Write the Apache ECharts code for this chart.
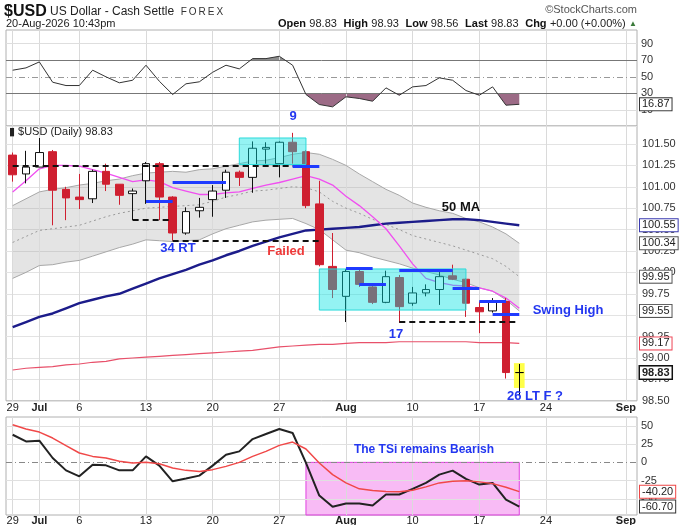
<!DOCTYPE html>
<html><head><meta charset="utf-8">
<script src="https://cdn.jsdelivr.net/npm/echarts@6/dist/echarts.min.js"></script>
<style>html,body{margin:0;padding:0;background:#fff}#c{width:681px;height:525px}</style>
</head><body><div id="c"></div>
<script>
// ---------- data ----------
const dates = ['06-29','06-30','07-01','07-02','07-03','07-06','07-07','07-08','07-09','07-10',
  '07-13','07-14','07-15','07-16','07-17','07-20','07-21','07-22','07-23','07-24',
  '07-27','07-28','07-29','07-30','07-31','08-03','08-04','08-05','08-06','08-07',
  '08-10','08-11','08-12','08-13','08-14','08-17','08-18','08-19','08-20'];
const futureDays = ['08-21','08-24','08-25','08-26','08-27','08-28','08-31','09-01'];
const open  = [101.37,101.15,101.23,101.41,100.97,100.88,100.86,101.18,101.03,100.92,101.07,101.27,100.88,100.46,100.72,100.85,100.96,101.17,101.11,101.44,101.27,101.52,101.41,100.80,100.07,99.72,100.01,99.83,99.65,99.94,99.64,99.76,99.80,99.96,99.92,99.59,99.55,99.66,98.83];
const close = [101.14,101.23,101.40,100.96,100.87,100.85,101.18,101.03,100.90,100.95,101.27,100.88,100.46,100.71,100.76,100.95,101.17,101.11,101.45,101.46,101.52,101.41,100.78,100.09,99.80,100.01,99.86,99.65,99.95,99.60,99.76,99.80,99.95,99.92,99.64,99.54,99.65,98.83,98.83];
const high  = [101.40,101.42,101.57,101.43,101.00,101.15,101.20,101.27,101.03,100.98,101.29,101.29,100.89,100.76,100.87,101.02,101.20,101.19,101.53,101.52,101.53,101.63,101.43,101.07,100.46,100.04,100.03,99.85,100.02,99.97,99.83,99.86,100.01,100.09,99.93,99.66,99.70,99.70,98.93];
const low   = [101.06,101.04,101.23,100.55,100.61,100.74,100.81,100.95,100.79,100.61,100.80,100.61,100.37,100.44,100.64,100.65,100.87,101.01,100.93,101.27,101.11,101.27,100.75,100.07,99.70,99.42,99.83,99.63,99.64,99.41,99.61,99.72,99.62,99.91,99.48,99.29,99.53,98.76,98.56];
const bbUpper = [100.78,100.86,100.94,100.97,100.99,101.02,101.04,101.07,101.09,101.13,101.16,101.17,101.18,101.17,101.20,101.21,101.24,101.27,101.30,101.31,101.34,101.38,101.40,101.38,101.32,101.25,101.15,101.06,100.97,100.90,100.81,100.76,100.72,100.69,100.63,100.59,100.53,100.45,100.34];
const bbMid   = [100.35,100.42,100.49,100.51,100.53,100.55,100.60,100.65,100.69,100.72,100.75,100.76,100.77,100.78,100.79,100.83,100.88,100.91,100.95,100.96,100.98,101.00,100.99,100.94,100.83,100.75,100.69,100.62,100.56,100.50,100.43,100.39,100.35,100.31,100.26,100.21,100.16,100.07,99.95];
const bbLower = [99.93,100.00,100.08,100.09,100.12,100.14,100.19,100.24,100.29,100.33,100.38,100.37,100.36,100.37,100.38,100.45,100.51,100.55,100.59,100.61,100.62,100.63,100.57,100.50,100.38,100.26,100.23,100.18,100.14,100.10,100.05,100.01,99.97,99.92,99.88,99.82,99.78,99.68,99.55];
const ma10  = [100.94,101.07,101.21,101.25,101.25,101.24,101.20,101.16,101.11,101.06,101.08,101.06,100.99,100.95,100.91,100.91,100.93,100.94,100.98,101.02,101.05,101.09,101.13,101.09,101.02,100.89,100.78,100.65,100.51,100.31,100.10,99.93,99.88,99.85,99.84,99.82,99.78,99.70,99.58];
const ma50  = [99.36,99.42,99.48,99.52,99.58,99.64,99.68,99.72,99.75,99.81,99.87,99.93,99.98,100.03,100.09,100.14,100.20,100.25,100.31,100.36,100.41,100.45,100.49,100.50,100.51,100.52,100.53,100.55,100.57,100.58,100.59,100.60,100.61,100.62,100.62,100.61,100.59,100.57,100.55];
const ma200 = [98.86,98.88,98.89,98.90,98.92,98.93,98.95,98.96,98.99,99.00,99.01,99.02,99.03,99.04,99.05,99.06,99.07,99.08,99.09,99.11,99.13,99.14,99.15,99.16,99.16,99.17,99.18,99.18,99.18,99.19,99.19,99.19,99.19,99.19,99.19,99.18,99.18,99.18,99.17];
const rsi   = [58.0,60.8,68.0,43.5,39.5,39.5,58.0,50.0,42.8,45.9,64.0,44.7,28.7,41.6,44.0,55.5,64.0,59.6,72.0,72.0,74.8,64.0,28.7,16.6,13.8,25.9,23.9,20.6,36.7,27.8,37.9,39.5,48.8,45.9,33.5,27.8,37.9,15.8,16.87];
const tsi   = [37.9,28.8,29.7,6.0,-11.0,-19.2,-3.2,-4.1,-11.0,-11.0,8.2,-4.5,-26.0,-22.3,-18.2,-4.5,10.5,15.1,32.0,38.9,45.8,40.3,-0.8,-45.6,-61.1,-56.6,-56.6,-59.3,-44.2,-44.2,-36.4,-28.2,-16.8,-11.4,-22.7,-30.5,-28.2,-51.1,-60.7];
const tsiSignal = [51.6,45.8,41.6,33.4,22.9,12.9,8.2,6.0,1.4,-0.8,0.0,-1.8,-7.7,-11.0,-12.7,-10.0,-5.5,0.0,8.2,15.1,23.3,27.9,18.4,-0.8,-16.8,-28.2,-36.4,-38.8,-40.1,-40.5,-38.4,-33.7,-28.2,-26.0,-25.1,-26.8,-29.2,-34.2,-40.2];
const tickLabels = [['06-29','29'],['07-01','Jul'],['07-06','6'],['07-13','13'],['07-20','20'],['07-27','27'],['08-03','Aug'],['08-10','10'],['08-17','17'],['08-24','24'],['09-01','Sep']];
const rsiLevels = [90,70,50,30,10];
const tsiLevels = [50,25,0,-25,-50];
const dashedLines = [['06-29','07-29',101.24],['07-10','07-15',100.61],['07-15','07-30',100.37],['08-07','08-20',99.42]];
const blueLines = [['07-13','07-15',100.83],['07-15','07-21',101.05],['07-28','07-30',101.24],['08-03','08-05',100.05],['08-04','08-06',99.86],['08-07','08-13',100.02],['08-13','08-17',99.82],['08-17','08-19',99.66],['08-18','08-20',99.51]];
const cyanBoxes = [['07-22','07-29',101.57,101.26],['07-30','08-14',100.04,99.56]];
const yellowBox = ['08-20',98.94,98.65];
const tsiBox = ['07-29','08-20',0];
const priceNotes = [['34 RT',12.4,100.285],['Failed',20.5,100.25],['50 MA',33.63,100.76],['Swing High',41.66,99.56],['17',28.75,99.27],['26 LT F ?',39.18,98.556]];
const rsiNotes = [['9',21.03,2.2]];
const tsiNotes = [['The TSi remains Bearish',30.85,17.4]];

// ---------- helpers ----------
const F = 'Liberation Sans, Arial, sans-serif';
const axisDays = dates.concat(futureDays);
const xOf = d => axisDays.indexOf(d);
const N = dates.length - 1;
const pts = arr => dates.map((d, i) => [xOf(d), arr[i]]);
const noteColor = {'Failed': '#ee3a3a', '50 MA': '#111'};
const mkNote = (n, size) => ({coord: [n[1], n[2]], symbolSize: 0,
  label: {show: true, position: 'inside', formatter: n[0], color: noteColor[n[0]] || '#2337f0',
    fontWeight: 'bold', fontSize: size || 13, fontFamily: F}});
const vLines = withLabel => tickLabels.map(([d, t]) => ({
  xAxis: xOf(d), lineStyle: {color: '#dadada', width: 1, type: 'solid'},
  label: withLabel ? {show: true, position: 'start', formatter: t, distance: withLabel, fontSize: 11,
    color: '#222', fontFamily: F, fontWeight: isNaN(+t) ? 'bold' : 'normal'} : {show: false}
}));
const hLevel = (v, color, type, txt) => ({yAxis: v, lineStyle: {color, width: 1, type},
  label: {show: true, position: 'end', formatter: txt, distance: 4, fontSize: 11, color: '#333', fontFamily: F}});
const tag = (v, border, bold) => ({yAxis: v, lineStyle: {color: 'rgba(0,0,0,0)', width: 0},
  label: {show: true, position: 'end', formatter: v.toFixed(2), distance: 3, fontSize: 11, color: '#222',
    fontFamily: F, fontWeight: bold ? 'bold' : 'normal', backgroundColor: '#fff', borderColor: border,
    borderWidth: bold ? 1.5 : 1, padding: [1, 2, 0, 2]}});
const segLine = (s, color, width, type) => [
  {coord: [xOf(s[0]), s[2]], lineStyle: {color, width, type}},
  {coord: [xOf(s[1]), s[2]]}];

const candleData = dates.map((d, i) => {
  const item = {value: [xOf(d), open[i], close[i], low[i], high[i]]};
  if (open[i] === close[i]) item.itemStyle = {color: '#000', color0: '#000', borderColor: '#000', borderColor0: '#000'};
  return item;
});

const chgVal = close[N] - close[N - 1];
const chg = (chgVal >= 0 ? '+' : '') + chgVal.toFixed(2);
const chgPct = (chgVal >= 0 ? '+' : '') + (chgVal / close[N - 1] * 100).toFixed(2) + '%';

const chart = echarts.init(document.getElementById('c'), null, {renderer: 'canvas'});
const commonX = {type: 'value', min: -0.5, max: 46.83, show: false};
chart.setOption({
  animation: false,
  backgroundColor: '#fff',
  textStyle: {fontFamily: F},
  grid: [
    {left: 6, right: 44, top: 30, height: 96, show: true, borderColor: '#b0b0b0', borderWidth: 1},
    {left: 6, right: 44, top: 126, height: 274.8, show: true, borderColor: '#b0b0b0', borderWidth: 1},
    {left: 6, right: 44, top: 417, height: 98, show: true, borderColor: '#b0b0b0', borderWidth: 1}
  ],
  xAxis: [Object.assign({gridIndex: 0}, commonX), Object.assign({gridIndex: 1}, commonX), Object.assign({gridIndex: 2}, commonX)],
  yAxis: [
    {gridIndex: 0, type: 'value', min: -9.3, max: 106.5, show: false},
    {gridIndex: 1, type: 'value', position: 'right', min: 98.5, max: 101.71, interval: 0.25,
      axisLabel: {formatter: v => v.toFixed(2), color: '#333', fontSize: 11, fontFamily: F, margin: 5, showMaxLabel: false},
      splitLine: {lineStyle: {color: '#e3e3e3'}}, axisLine: {show: false}, axisTick: {show: false}},
    {gridIndex: 2, type: 'value', min: -72.3, max: 62.3, show: false}
  ],
  visualMap: [{type: 'piecewise', show: false, seriesIndex: 0, dimension: 1,
    pieces: [{lt: 30, color: '#9c6b86'}, {gte: 30, lte: 70, color: 'rgba(0,0,0,0)'}, {gt: 70, color: '#8e8e8e'}]}],
  graphic: [
    {type: 'text', x: 4, y: 12, style: {text: '{a|$USD} {b|US Dollar - Cash Settle}  {c|F\u2009O\u2009R\u2009E\u2009X}', textVerticalAlign: 'middle',
      rich: {a: {font: 'bold 16px ' + F, fill: '#111'}, b: {font: '12px ' + F, fill: '#222'}, c: {font: '10px ' + F, fill: '#333'}}}},
    {type: 'text', x: 6, y: 24, style: {text: '20-Aug-2026 10:43pm', font: '11px ' + F, fill: '#222', textVerticalAlign: 'middle'}},
    {type: 'text', x: 637, y: 10, style: {text: '\u00a9StockCharts.com', font: '11px ' + F, fill: '#555', textAlign: 'right', textVerticalAlign: 'middle'}},
    {type: 'text', x: 637, y: 24, style: {
      text: '{b|Open} {n|' + open[N].toFixed(2) + '}  {b|High} {n|' + high[N].toFixed(2) + '}  {b|Low} {n|' + low[N].toFixed(2) +
        '}  {b|Last} {n|' + close[N].toFixed(2) + '}  {b|Chg} {n|' + chg + ' (' + chgPct + ')} {t|\u25b2}',
      textAlign: 'right', textVerticalAlign: 'middle',
      rich: {b: {font: 'bold 11px ' + F, fill: '#111'}, n: {font: '11px ' + F, fill: '#222'}, t: {font: '8px ' + F, fill: '#3a7a3a'}}}},
    {type: 'text', x: 9, y: 132, z: 20, style: {text: '\u25ae $USD (Daily) ' + close[N].toFixed(2), font: '11px ' + F, fill: '#222', textVerticalAlign: 'middle'}}
  ],
  series: [
    {type: 'line', xAxisIndex: 0, yAxisIndex: 0, data: pts(rsi), showSymbol: false, silent: true, z: 1,
      lineStyle: {opacity: 0}, areaStyle: {origin: 30, opacity: 1}},
    {type: 'line', xAxisIndex: 0, yAxisIndex: 0, data: pts(rsi), showSymbol: false, silent: true, z: 3,
      lineStyle: {color: '#333', width: 1},
      markLine: {silent: true, symbol: 'none', z: 2, label: {show: false}, data: [
        ...vLines(0),
        hLevel(rsiLevels[0], '#dedede', 'solid', String(rsiLevels[0])),
        hLevel(rsiLevels[1], '#777', 'solid', String(rsiLevels[1])),
        hLevel(rsiLevels[2], '#999', [6, 3, 1, 3], String(rsiLevels[2])),
        hLevel(rsiLevels[3], '#777', 'solid', String(rsiLevels[3])),
        hLevel(rsiLevels[4], '#dedede', 'solid', String(rsiLevels[4])),
        tag(rsi[N], '#333')
      ]},
      markPoint: {silent: true, z: 7, data: rsiNotes.map(n => mkNote(n))}},
    {type: 'custom', xAxisIndex: 1, yAxisIndex: 1, data: [[0, 100]], silent: true, z: 1,
      renderItem: (p, api) => {
        const poly = [];
        dates.forEach((d, i) => poly.push(api.coord([xOf(d), bbUpper[i]])));
        for (let i = N; i >= 0; i--) poly.push(api.coord([xOf(dates[i]), bbLower[i]]));
        return {type: 'polygon', shape: {points: poly}, style: {fill: 'rgba(150,150,150,0.26)'}};
      }},
    {type: 'line', xAxisIndex: 1, yAxisIndex: 1, data: pts(bbUpper), showSymbol: false, silent: true, z: 3, lineStyle: {color: '#a8a8a8', width: 1}},
    {type: 'line', xAxisIndex: 1, yAxisIndex: 1, data: pts(bbLower), showSymbol: false, silent: true, z: 3, lineStyle: {color: '#a8a8a8', width: 1}},
    {type: 'line', xAxisIndex: 1, yAxisIndex: 1, data: pts(bbMid), showSymbol: false, silent: true, z: 3, lineStyle: {color: '#9a9a9a', width: 1, type: [2, 3]},
      markArea: {silent: true, z: 3, itemStyle: {color: 'rgba(255,255,40,0.85)'}, data: [[
        {coord: [xOf(yellowBox[0]) - 0.4, yellowBox[1]]}, {coord: [xOf(yellowBox[0]) + 0.4, yellowBox[2]]}]]}},
    {type: 'line', xAxisIndex: 1, yAxisIndex: 1, data: pts(ma200), showSymbol: false, silent: true, z: 3, lineStyle: {color: '#e8506a', width: 1.2},
      markLine: {silent: true, symbol: 'none', z: 2, label: {show: false}, data: vLines(2)}},
    {type: 'line', xAxisIndex: 1, yAxisIndex: 1, data: pts(ma50), showSymbol: false, silent: true, z: 3, lineStyle: {color: '#1c1c8a', width: 2.4},
      markLine: {silent: true, symbol: 'none', z: 8, label: {show: false}, data: [
        tag(ma50[N], '#3a3ab0'), tag(bbUpper[N], '#555'), tag(bbMid[N], '#555'), tag(bbLower[N], '#555'),
        tag(ma200[N], '#ee4455'), tag(close[N], '#111', true)]}},
    {type: 'line', xAxisIndex: 1, yAxisIndex: 1, data: pts(ma10), showSymbol: false, silent: true, z: 3, lineStyle: {color: '#f04ff0', width: 1.3}},
    {type: 'candlestick', xAxisIndex: 1, yAxisIndex: 1, data: candleData, barWidth: 8, silent: true, z: 4,
      itemStyle: {color: '#ffffff', borderColor: '#111', color0: '#cf1f30', borderColor0: '#cf1f30', borderWidth: 1},
      markArea: {silent: true, z: 5, itemStyle: {color: 'rgba(0,226,226,0.42)', borderColor: '#2bdada', borderWidth: 1},
        data: cyanBoxes.map(b => [{coord: [xOf(b[0]), b[2]]}, {coord: [xOf(b[1]), b[3]]}])},
      markLine: {silent: true, symbol: 'none', z: 6, label: {show: false}, data: [
        ...dashedLines.map(s => segLine(s, '#111', 2, [6, 4])),
        ...blueLines.map(s => segLine(s, '#1f3bff', 3, 'solid'))]},
      markPoint: {silent: true, z: 7, data: priceNotes.map(n => mkNote(n))}},
    {type: 'line', xAxisIndex: 2, yAxisIndex: 2, data: pts(tsi), showSymbol: false, silent: true, z: 3, lineStyle: {color: '#222', width: 2},
      markArea: {silent: true, z: 1, itemStyle: {color: 'rgba(245,150,240,0.65)', borderColor: '#e040e0', borderWidth: 1},
        data: [[{coord: [xOf(tsiBox[0]), tsiBox[2]]}, {coord: [xOf(tsiBox[1]), -72.3]}]]},
      markLine: {silent: true, symbol: 'none', z: 2, label: {show: false}, data: [
        ...vLines(0.5),
        hLevel(tsiLevels[0], '#e0e0e0', 'solid', String(tsiLevels[0])),
        hLevel(tsiLevels[1], '#e0e0e0', 'solid', String(tsiLevels[1])),
        hLevel(tsiLevels[2], '#888', [6, 3, 1, 3], String(tsiLevels[2])),
        hLevel(tsiLevels[3], '#e0e0e0', 'solid', String(tsiLevels[3])),
        hLevel(tsiLevels[4], '#e0e0e0', 'solid', String(tsiLevels[4])),
        tag(tsiSignal[N], '#ee4444'), tag(tsi[N], '#333')]},
      markPoint: {silent: true, z: 7, data: tsiNotes.map(n => mkNote(n, 12))}},
    {type: 'line', xAxisIndex: 2, yAxisIndex: 2, data: pts(tsiSignal), showSymbol: false, silent: true, z: 3, lineStyle: {color: '#f04848', width: 1.5}}
  ]
});
</script></body></html>
